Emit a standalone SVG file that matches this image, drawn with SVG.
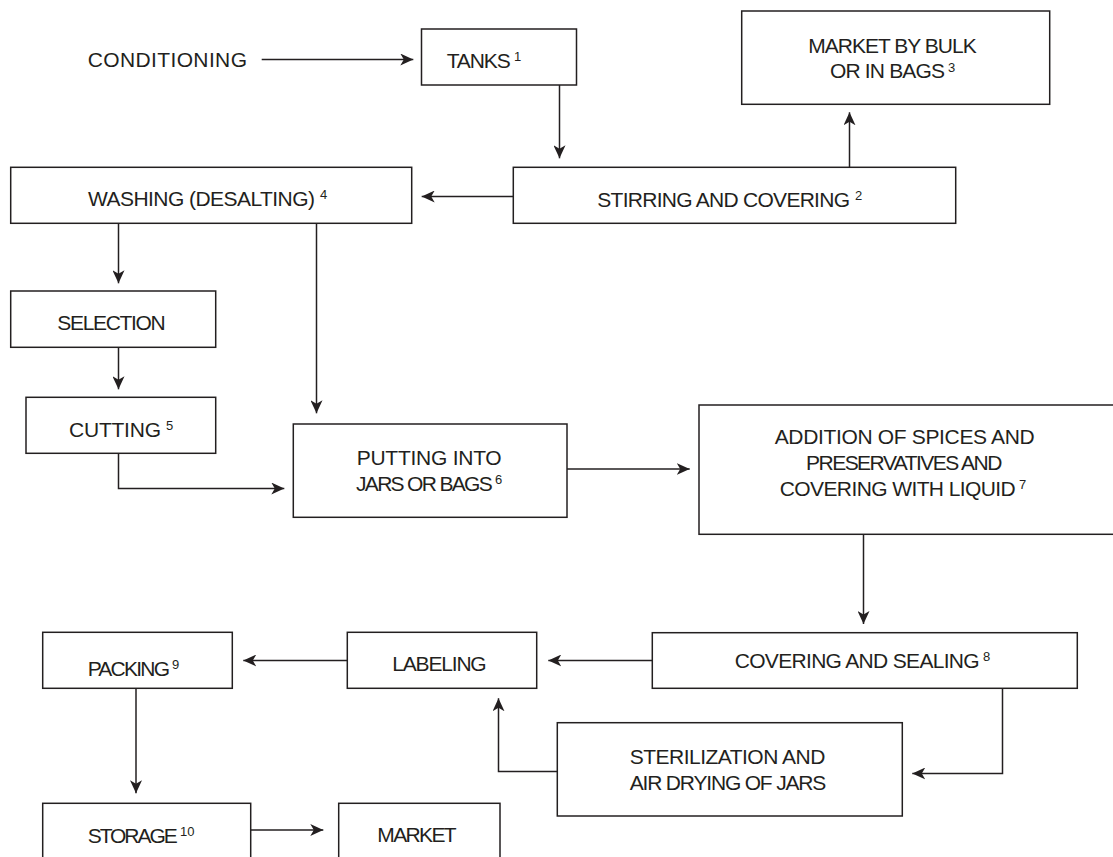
<svg xmlns="http://www.w3.org/2000/svg" width="1113" height="857" viewBox="0 0 1113 857">
<style>
.box{fill:#fff;stroke:#231f20;stroke-width:1.5}
.t{font-family:"Liberation Sans",Arial,sans-serif;font-size:21px;fill:#231f20;lengthAdjust:spacing}
.s{font-family:"Liberation Sans",Arial,sans-serif;font-size:13px;fill:#231f20}
.c{fill:none;stroke:#231f20;stroke-width:1.5}
</style>
<defs>
<marker id="ah" markerUnits="userSpaceOnUse" markerWidth="14" markerHeight="12" viewBox="0 0 14 12" refX="13" refY="6" orient="auto">
<path d="M0,0 L13,6 L0,12 L3.5,6 Z" fill="#231f20"/>
</marker>
</defs>
<rect width="1113" height="857" fill="#fff"/>
<g id="connectors">
<path class="c" marker-end="url(#ah)" d="M261.7,59.5 H413.3"/>
<path class="c" marker-end="url(#ah)" d="M559.5,85 V158.3"/>
<path class="c" marker-end="url(#ah)" d="M849.5,167.3 V112.3"/>
<path class="c" marker-end="url(#ah)" d="M513.3,196.5 H421.7"/>
<path class="c" marker-end="url(#ah)" d="M118.5,223.3 V283.3"/>
<path class="c" marker-end="url(#ah)" d="M316.5,223.3 V413.3"/>
<path class="c" marker-end="url(#ah)" d="M118.5,347.3 V389.3"/>
<path class="c" marker-end="url(#ah)" d="M118.5,453.3 V488.5 H284.3"/>
<path class="c" marker-end="url(#ah)" d="M567,469 H689.7"/>
<path class="c" marker-end="url(#ah)" d="M863.5,534.3 V624"/>
<path class="c" marker-end="url(#ah)" d="M652.3,660.5 H548.3"/>
<path class="c" marker-end="url(#ah)" d="M347.3,660.5 H243.3"/>
<path class="c" marker-end="url(#ah)" d="M1002.5,688.3 V773.5 H912.3"/>
<path class="c" marker-end="url(#ah)" d="M557.3,771.5 H498.5 V698.3"/>
<path class="c" marker-end="url(#ah)" d="M136,688.3 V793.3"/>
<path class="c" marker-end="url(#ah)" d="M250.7,830 H323.3"/>
</g>
<g id="conditioning">
<text class="t" x="87.7" y="66.7" textLength="159.3" lengthAdjust="spacing">CONDITIONING</text>
</g>
<g id="tanks">
<rect class="box" x="421.5" y="29" width="155" height="56"/>
<text class="t" x="446.7" y="68.3" textLength="64" lengthAdjust="spacing">TANKS</text>
<text class="s" x="514" y="61">1</text>
</g>
<g id="market-bulk">
<rect class="box" x="741.7" y="11" width="308" height="93.3"/>
<text class="t" x="808.3" y="52.7" textLength="168.4" lengthAdjust="spacing">MARKET BY BULK</text>
<text class="t" x="830" y="78.3" textLength="115" lengthAdjust="spacing">OR IN BAGS</text>
<text class="s" x="948" y="71.5">3</text>
</g>
<g id="stirring">
<rect class="box" x="513.3" y="167.3" width="442.4" height="56"/>
<text class="t" x="597.3" y="206.7" textLength="252.7" lengthAdjust="spacing">STIRRING AND COVERING</text>
<text class="s" x="855" y="200">2</text>
</g>
<g id="washing">
<rect class="box" x="10.7" y="167.3" width="401" height="56"/>
<text class="t" x="88" y="205.7" textLength="227" lengthAdjust="spacing">WASHING (DESALTING)</text>
<text class="s" x="320" y="199">4</text>
</g>
<g id="selection">
<rect class="box" x="10.7" y="291" width="205" height="56.3"/>
<text class="t" x="57.3" y="330" textLength="108.4" lengthAdjust="spacing">SELECTION</text>
</g>
<g id="cutting">
<rect class="box" x="26" y="397.3" width="189.7" height="56"/>
<text class="t" x="69" y="436.7" textLength="92" lengthAdjust="spacing">CUTTING</text>
<text class="s" x="166" y="430">5</text>
</g>
<g id="putting">
<rect class="box" x="293.3" y="424" width="273.7" height="93.3"/>
<text class="t" x="356.7" y="465" textLength="145" lengthAdjust="spacing">PUTTING INTO</text>
<text class="t" x="356" y="491" textLength="136.7" lengthAdjust="spacing">JARS OR BAGS</text>
<text class="s" x="495" y="484">6</text>
</g>
<g id="addition">
<rect class="box" x="699" y="405" width="416" height="129.3"/>
<text class="t" x="774.7" y="444.3" textLength="260" lengthAdjust="spacing">ADDITION OF SPICES  AND</text>
<text class="t" x="806" y="470" textLength="196.3" lengthAdjust="spacing">PRESERVATIVES  AND</text>
<text class="t" x="779.7" y="495.7" textLength="236" lengthAdjust="spacing">COVERING WITH LIQUID</text>
<text class="s" x="1019" y="489">7</text>
</g>
<g id="covering-sealing">
<rect class="box" x="652.3" y="632.7" width="425" height="55.6"/>
<text class="t" x="734.7" y="668.3" textLength="245" lengthAdjust="spacing">COVERING AND SEALING</text>
<text class="s" x="983" y="661">8</text>
</g>
<g id="labeling">
<rect class="box" x="347.3" y="632.3" width="189.4" height="56"/>
<text class="t" x="392.3" y="671" textLength="94.4" lengthAdjust="spacing">LABELING</text>
</g>
<g id="packing">
<rect class="box" x="42.7" y="632.3" width="189.6" height="56"/>
<text class="t" x="87.7" y="676" textLength="82.3" lengthAdjust="spacing">PACKING</text>
<text class="s" x="172" y="669">9</text>
</g>
<g id="sterilization">
<rect class="box" x="557.3" y="722.7" width="345" height="93.3"/>
<text class="t" x="629.7" y="764.3" textLength="195.6" lengthAdjust="spacing">STERILIZATION AND</text>
<text class="t" x="629.7" y="790" textLength="196.6" lengthAdjust="spacing">AIR DRYING OF JARS</text>
</g>
<g id="storage">
<rect class="box" x="42.7" y="803.3" width="208" height="70"/>
<text class="t" x="87.7" y="843.3" textLength="90" lengthAdjust="spacing">STORAGE</text>
<text class="s" x="180" y="836">10</text>
</g>
<g id="market">
<rect class="box" x="338.7" y="803.3" width="161.3" height="70"/>
<text class="t" x="377.3" y="842.3" textLength="79.4" lengthAdjust="spacing">MARKET</text>
</g>
</svg>
